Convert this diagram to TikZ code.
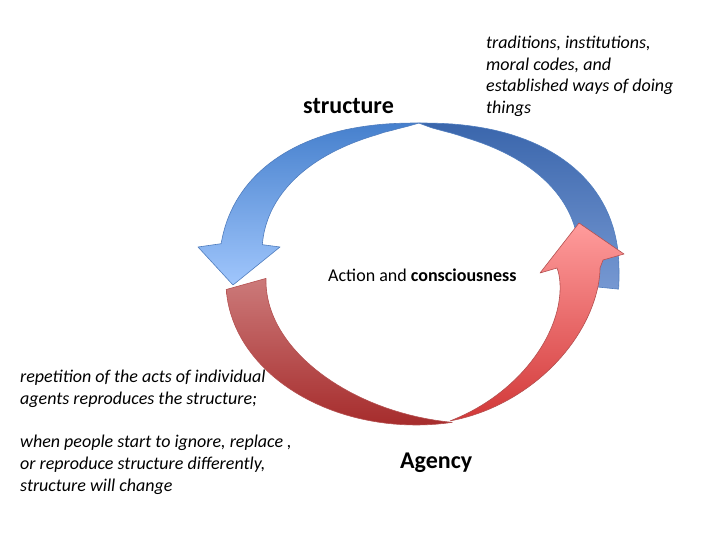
\documentclass[tikz,border=0pt]{standalone}
\usepackage{fontspec}
\setmainfont{Carlito}
\definecolor{bltop}{RGB}{70,128,205}
\definecolor{blbot}{RGB}{160,198,252}
\definecolor{brtop}{RGB}{58,102,172}
\definecolor{brbot}{RGB}{118,152,210}
\definecolor{bedge}{RGB}{80,125,190}
\definecolor{rltop}{RGB}{204,122,122}
\definecolor{rlbot}{RGB}{166,44,44}
\definecolor{rrtop}{RGB}{255,156,156}
\definecolor{rrbot}{RGB}{210,56,56}
\definecolor{redge}{RGB}{180,80,80}
\pgfmathdeclarefunction{sgx}{2}{\pgfmathparse{ifthenelse(cos(#1)<0,-1,1)*(abs(cos(#1))+0.0001)^(#2)}}
\pgfmathdeclarefunction{sgy}{2}{\pgfmathparse{ifthenelse(sin(#1)<0,-1,1)*(abs(sin(#1))+0.0001)^(#2)}}
\pgfmathdeclarefunction{wbl}{1}{\pgfmathparse{40*(((#1)-90)/77.5+0.0001)^0.7}}
\pgfmathdeclarefunction{wbr}{1}{\pgfmathparse{42*((90-(#1))/94+0.0001)^0.6}}
\pgfmathdeclarefunction{wrl}{1}{\pgfmathparse{40*(1-((#1)-183)*((#1)-183)/9604)}}
\pgfmathdeclarefunction{wrr}{1}{\pgfmathparse{43*((#1)+81)/81}}
\begin{document}
\begin{tikzpicture}[x=1pt,y=-1pt,
  bluepart/.style={draw=bedge, line width=0.6pt, line join=round},
  redpart/.style={draw=redge, line width=0.6pt, line join=round},
  itl/.style={inner sep=0pt, anchor=base west, font=\fontsize{18}{22}\selectfont\itshape},
  bigl/.style={inner sep=0pt, anchor=base west, font=\fontsize{24}{28}\selectfont\bfseries},
  midl/.style={inner sep=0pt, anchor=base west, font=\fontsize{18}{22}\selectfont}]
\useasboundingbox (0,0) rectangle (720,540);
% blue, left half with head
\path[bluepart, top color=bltop, bottom color=blbot]
  plot[domain=90:171, samples=40, variable=\t] ({419+200*sgx(\t,0.87)},{274-151*sgy(\t,0.87)})
  -- (198,247) -- (233,285) -- (280,247)
  -- plot[domain=167.5:90, samples=40, variable=\t] ({419+(200-wbl(\t))*sgx(\t,0.87)},{274-(151-wbl(\t))*sgy(\t,0.87)})
  -- cycle;
% blue, right half with tail
\path[bluepart, top color=brtop, bottom color=brbot]
  plot[domain=90:-4, samples=40, variable=\t] ({419+200*sgx(\t,0.87)},{274-151*sgy(\t,0.87)})
  -- plot[domain=-4:90, samples=40, variable=\t] ({419+(200-wbr(\t))*sgx(\t,0.87)},{274-(151-wbr(\t))*sgy(\t,0.87)})
  -- cycle;
% red, left half with tail
\path[redpart, top color=rltop, bottom color=rlbot]
  plot[domain=183:281, samples=40, variable=\t] ({416+190*cos(\t)},{282-143*sin(\t)})
  -- plot[domain=281:178, samples=40, variable=\t] ({416+(190-wrl(\t))*cos(\t)},{282-(143-wrl(\t))*sin(\t)})
  -- cycle;
% red, right half with head
\path[redpart, top color=rrtop, bottom color=rrbot]
  plot[domain=-81:0, samples=40, variable=\t] ({428+172*sgx(\t,1.111)},{268-155*sgy(\t,1.111)})
  -- (603,260) -- (624,254) -- (579,223) -- (540,273)
  -- plot[domain=0:-81, samples=40, variable=\t] ({428+(172-wrr(\t))*sgx(\t,1.111)},{268-(155-wrr(\t))*sgy(\t,1.111)})
  -- cycle;
% texts
\node[bigl] (structure) at (303,114) {structure};
\node[bigl] (agency) at (400,468) {Agency};
\node[midl] (action) at (328,281) {Action and \textbf{consciousness}};
\node[itl] (tr1) at (486,49) {traditions, institutions,};
\node[itl] (tr2) at (486,70.5) {moral codes, and};
\node[itl] (tr3) at (486,92) {established ways of doing};
\node[itl] (tr4) at (486,113.5) {things};
\node[itl] (rp1) at (20,382) {repetition of the acts of individual};
\node[itl] (rp2) at (20,404) {agents reproduces the structure;};
\node[itl] (wp1) at (20,447) {when people start to ignore, replace ,};
\node[itl] (wp2) at (20,469) {or reproduce structure differently,};
\node[itl] (wp3) at (20,491) {structure will change};
\end{tikzpicture}
\end{document}
